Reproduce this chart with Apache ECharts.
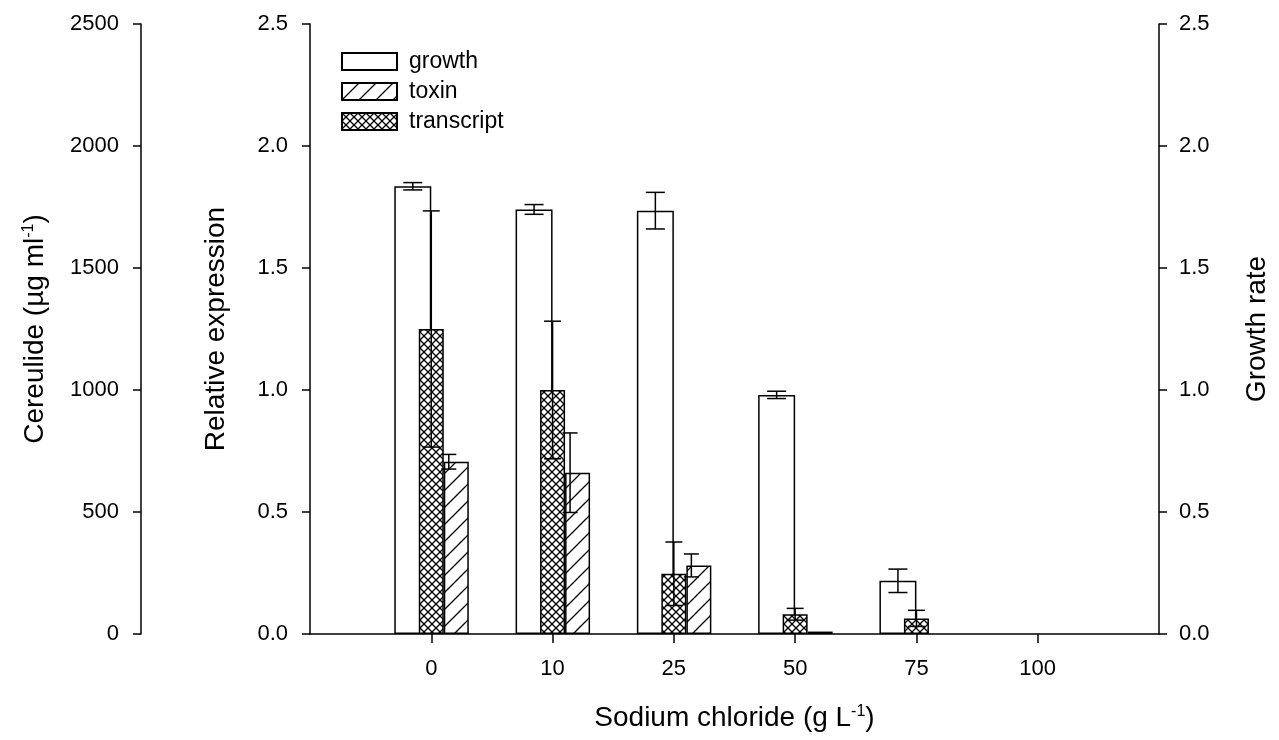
<!DOCTYPE html>
<html>
<head>
<meta charset="utf-8">
<script src="https://cdn.jsdelivr.net/npm/echarts@6/dist/echarts.min.js"></script>
<style>
html,body{margin:0;padding:0;background:#fff;}
#chart{width:1279px;height:740px;}
</style>
</head>
<body>
<div id="chart"></div>
<script>
// ---- data ----
const xLabels = ['0', '10', '25', '50', '75', '100'];
const growth = [1.835, 1.74, 1.735, 0.98, 0.218, 0];
const growthErr = [0.015, 0.02, 0.075, 0.015, 0.048, 0];
const transcript = [1.25, 1.0, 0.247, 0.081, 0.064, 0];
const transcriptErr = [0.484, 0.282, 0.13, 0.024, 0.033, 0];
const toxin = [706, 661, 281, 10, 0, 0];          // cereulide, µg/ml
const toxinErr = [30, 163, 47, 0, 0, 0];

// ---- styling helpers ----
const FONT = "'Liberation Sans', Arial, sans-serif";
function crossPattern() {
  const c = document.createElement('canvas');
  c.width = 8; c.height = 8;
  const g = c.getContext('2d');
  g.fillStyle = '#fff'; g.fillRect(0, 0, 8, 8);
  g.strokeStyle = '#000'; g.lineWidth = 1.3;
  g.beginPath();
  g.moveTo(0, 0); g.lineTo(8, 8);
  g.moveTo(8, 0); g.lineTo(0, 8);
  g.stroke();
  return c;
}
function diagPattern() {
  const s = 17;
  const c = document.createElement('canvas');
  c.width = s; c.height = s;
  const g = c.getContext('2d');
  g.fillStyle = '#fff'; g.fillRect(0, 0, s, s);
  g.strokeStyle = '#000'; g.lineWidth = 1.3;
  g.beginPath();
  g.moveTo(0, s); g.lineTo(s, 0);
  g.moveTo(-2, 2); g.lineTo(2, -2);
  g.moveTo(s - 2, s + 2); g.lineTo(s + 2, s - 2);
  g.stroke();
  return c;
}
const crossFill = { image: crossPattern(), repeat: 'repeat' };
const diagFill = { image: diagPattern(), repeat: 'repeat' };

const categories = [''].concat(xLabels).concat([' ']);
// zero-height bars get no outline (nothing is drawn for them in the reference)
const pairs = (arr) => arr.map((v, i) => (v === 0
  ? { value: [xLabels[i], v], itemStyle: { borderWidth: 0, color: 'transparent' } }
  : { value: [xLabels[i], v] }));
const padPairs = (n) => xLabels.slice(0, n).map((c) => [c, 0]);
const errPairs = (vals, errs) => vals.map((v, i) => [xLabels[i], v, errs[i]]).filter(d => d[2] > 0);

function errRender(offset, cap) {
  return function (params, api) {
    const xi = api.value(0), v = api.value(1), e = api.value(2);
    const x = api.coord([xi, 0])[0] + offset;
    const yt = api.coord([xi, v + e])[1];
    const yb = api.coord([xi, Math.max(v - e, 0)])[1];
    const h = cap / 2;
    const st = { stroke: '#000', lineWidth: 1.5 };
    return {
      type: 'group', children: [
        { type: 'line', shape: { x1: x, y1: yt, x2: x, y2: yb }, style: st },
        { type: 'line', shape: { x1: x - h, y1: yt, x2: x + h, y2: yt }, style: st },
        { type: 'line', shape: { x1: x - h, y1: yb, x2: x + h, y2: yb }, style: st }
      ]
    };
  };
}

const axisLine = { show: true, lineStyle: { color: '#000', width: 1.5 } };
const axisTick = { show: true, inside: false, length: 8, lineStyle: { color: '#000', width: 1.5 } };
const labelStyle = { color: '#000', fontSize: 22, fontFamily: FONT };
const nameStyle = {
  color: '#000', fontFamily: FONT, fontSize: 28,
  rich: {
    t: { fontSize: 28, fontFamily: FONT, color: '#000' },
    s: { fontSize: 16, fontFamily: FONT, color: '#000', verticalAlign: 'top' }
  }
};

const chart = echarts.init(document.getElementById('chart'), null, { renderer: 'canvas' });
chart.setOption({
  animation: false,
  backgroundColor: '#fff',
  grid: { left: 310, right: 117, top: 24, bottom: 106, containLabel: false },
  legend: {
    orient: 'vertical', left: 341, top: 50, padding: 0,
    itemWidth: 55, itemHeight: 17, itemGap: 7,
    data: ['growth', 'toxin', 'transcript'],
    textStyle: { color: '#000', fontSize: 23, fontFamily: FONT, padding: [0, 0, 0, 7] },
    icon: 'rect'
  },
  xAxis: [
    {
      type: 'category', data: categories, boundaryGap: false,
      position: 'bottom',
      axisLine: axisLine,
      axisTick: { show: true, length: 9, lineStyle: { color: '#000', width: 1.5 }, interval: (i) => i > 0 && i < categories.length - 1 },
      axisLabel: { ...labelStyle, margin: 24, interval: 0 },
      name: '{t|Sodium chloride (g L}{s|-1}{t|)}',
      nameLocation: 'middle', nameGap: 70,
      nameTextStyle: nameStyle,
      splitLine: { show: false }
    },
    {
      type: 'category', data: categories, boundaryGap: false,
      show: false
    }
  ],
  yAxis: [
    {
      type: 'value', min: 0, max: 2.5, interval: 0.5, position: 'left',
      axisLine: axisLine, axisTick: axisTick,
      axisLabel: { ...labelStyle, margin: 22, formatter: (v) => v.toFixed(1) },
      splitLine: { show: false },
      name: 'Relative expression', nameLocation: 'middle', nameRotate: 90, nameGap: 80,
      nameTextStyle: nameStyle
    },
    {
      type: 'value', min: 0, max: 2500, interval: 500, position: 'left', offset: 169,
      axisLine: axisLine, axisTick: axisTick,
      axisLabel: { ...labelStyle, margin: 22, formatter: (v) => String(v) },
      splitLine: { show: false },
      name: '{t|Cereulide (µg ml}{s|-1}{t|)}', nameLocation: 'middle', nameRotate: 90, nameGap: 92,
      nameTextStyle: nameStyle
    },
    {
      type: 'value', min: 0, max: 2.5, interval: 0.5, position: 'right',
      axisLine: axisLine, axisTick: axisTick,
      axisLabel: { ...labelStyle, margin: 20, formatter: (v) => v.toFixed(1) },
      splitLine: { show: false },
      name: 'Growth rate', nameLocation: 'middle', nameRotate: 90, nameGap: 84,
      nameTextStyle: nameStyle
    }
  ],
  series: [
    {
      name: 'growth', type: 'bar', xAxisIndex: 1, yAxisIndex: 2,
      barWidth: 37, barGap: '0%', z: 2,
      itemStyle: { color: '#fff', borderColor: '#000', borderWidth: 1.5 },
      data: pairs(growth)
    },
    {
      name: '_pad1', type: 'bar', xAxisIndex: 1, yAxisIndex: 2,
      barWidth: 37, barGap: '0%', silent: true, z: 1,
      itemStyle: { color: 'transparent', borderWidth: 0 },
      data: padPairs(growth.length)
    },
    {
      name: '_pad2', type: 'bar', xAxisIndex: 0, yAxisIndex: 0,
      barWidth: 25, barGap: '0%', silent: true, z: 1,
      itemStyle: { color: 'transparent', borderWidth: 0 },
      data: padPairs(transcript.length)
    },
    {
      name: 'transcript', type: 'bar', xAxisIndex: 0, yAxisIndex: 0,
      barWidth: 25, barGap: '0%', z: 3,
      itemStyle: { color: crossFill, borderColor: '#000', borderWidth: 1.5 },
      data: pairs(transcript)
    },
    {
      name: 'toxin', type: 'bar', xAxisIndex: 0, yAxisIndex: 1,
      barWidth: 25, barGap: '0%', z: 3,
      itemStyle: { color: diagFill, borderColor: '#000', borderWidth: 1.5 },
      data: pairs(toxin)
    },
    {
      name: '_errGrowth', type: 'custom', xAxisIndex: 1, yAxisIndex: 2, z: 5,
      renderItem: errRender(-18.5, 19), data: errPairs(growth, growthErr)
    },
    {
      name: '_errTranscript', type: 'custom', xAxisIndex: 0, yAxisIndex: 0, z: 5,
      renderItem: errRender(0, 17), data: errPairs(transcript, transcriptErr)
    },
    {
      name: '_errToxin', type: 'custom', xAxisIndex: 0, yAxisIndex: 1, z: 5,
      renderItem: errRender(17.5, 15), data: errPairs(toxin, toxinErr)
    }
  ]
});
</script>
</body>
</html>
